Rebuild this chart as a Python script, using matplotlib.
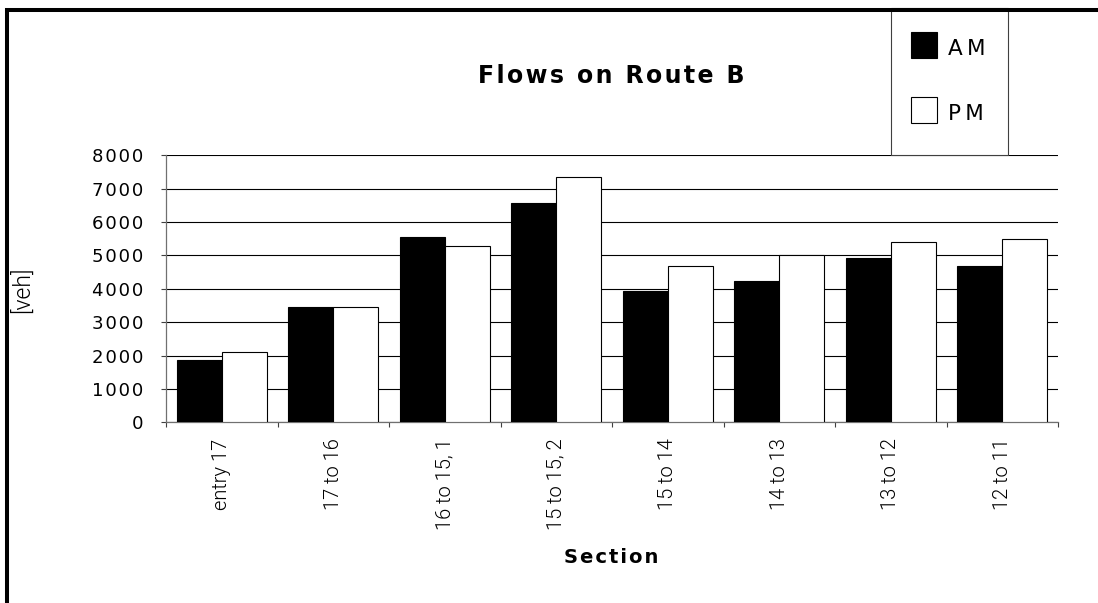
import numpy as np
import matplotlib
matplotlib.use('Agg')
import matplotlib.pyplot as plt
from matplotlib import font_manager
from matplotlib.lines import Line2D
from matplotlib.patches import Rectangle

sections = ['entry 17', '17 to 16', '16 to 15, 1', '15 to 15, 2',
            '15 to 14', '14 to 13', '13 to 12', '12 to 11']
am_flow = [1870, 3450, 5550, 6570, 3930, 4230, 4920, 4680]
pm_flow = [2100, 3460, 5290, 7350, 4680, 5000, 5410, 5490]
series = ['AM', 'PM']
y_ticks = [0, 1000, 2000, 3000, 4000, 5000, 6000, 7000, 8000]

W, H = 1098, 603
WIDE = 'DejaVu Sans'


def thin_font():
    # a light face for the rotated labels, if one is installed
    for f in font_manager.fontManager.ttflist:
        if f.name == 'Roboto' and f.weight in (300, 'light') and f.style == 'normal':
            return 'Roboto', 300
    return 'Liberation Sans', 'normal'


THIN, THIN_WEIGHT = thin_font()


def spaced(s, gap='\u200a'):
    # open up the letter spacing a little
    return gap.join(s)


def fx(x):
    return x / W


def fy(y):
    return 1 - y / H


fig = plt.figure(figsize=(W / 100, H / 100), dpi=100)
ax = fig.add_axes([fx(166), fy(422.3), (1058 - 166) / W, (422.3 - 155.3) / H])

x = np.arange(len(sections))
width = 0.405
ax.bar(x - width / 2, am_flow, width, color='black', edgecolor='black', linewidth=0.8, zorder=3)
ax.bar(x + width / 2, pm_flow, width, color='white', edgecolor='black', linewidth=0.8, zorder=3)

ax.set_xlim(-0.5, len(sections) - 0.5)
ax.set_ylim(0, 8000)
ax.set_yticks(y_ticks)
ax.set_yticklabels([spaced(str(v)) for v in y_ticks], family=WIDE, fontsize=13.1)
ax.yaxis.grid(True, color='black', linewidth=0.8)
ax.set_axisbelow(True)

ax.set_xticks(x)
ax.set_xticklabels(sections, rotation=90, family=THIN, fontweight=THIN_WEIGHT,
                   fontsize=14.5, va='top')
ax.set_xticks(np.arange(len(sections) + 1) - 0.5, minor=True)
ax.tick_params(axis='x', which='major', length=0, pad=11.5)
ax.tick_params(axis='x', which='minor', length=3.6, color='#404040', width=0.8)
ax.tick_params(axis='y', length=3.6, pad=13, color='#404040', width=0.8)

for side in ['top', 'right']:
    ax.spines[side].set_visible(False)
for side in ['left', 'bottom']:
    ax.spines[side].set_color('#707070')
    ax.spines[side].set_linewidth(0.9)

fig.text(fx(611), fy(83), spaced('Flows on Route B'), ha='center', va='baseline',
         family=WIDE, fontsize=17, weight='bold')
fig.text(fx(611), fy(563), spaced('Section'), ha='center', va='baseline',
         family=WIDE, fontsize=14, weight='bold')
fig.text(fx(22), fy(290), '[veh]', rotation=90, ha='center', va='center',
         family=THIN, fontweight=THIN_WEIGHT, fontsize=16.5)

# legend box in the upper right
fig.add_artist(Rectangle((fx(891), fy(155)), 116.7 / W, (155 - 8) / H,
                         transform=fig.transFigure, facecolor='white',
                         edgecolor='#404040', linewidth=0.8))
for name, color, top in zip(series, ['black', 'white'], [32, 97]):
    fig.add_artist(Rectangle((fx(911), fy(top + 26)), 26 / W, 26 / H,
                             transform=fig.transFigure, facecolor=color,
                             edgecolor='black', linewidth=0.8))
    fig.text(fx(948), fy(top + 23), spaced(name, '\u2009'), ha='left', va='baseline',
             family=WIDE, fontsize=15.5)

# page frame along the left and top edges
fig.add_artist(Line2D([fx(7.3), fx(7.3), 1], [0, fy(10), fy(10)],
                      transform=fig.transFigure, color='black', linewidth=2.9,
                      solid_joinstyle='miter'))

fig.savefig('out.png', dpi=100)
